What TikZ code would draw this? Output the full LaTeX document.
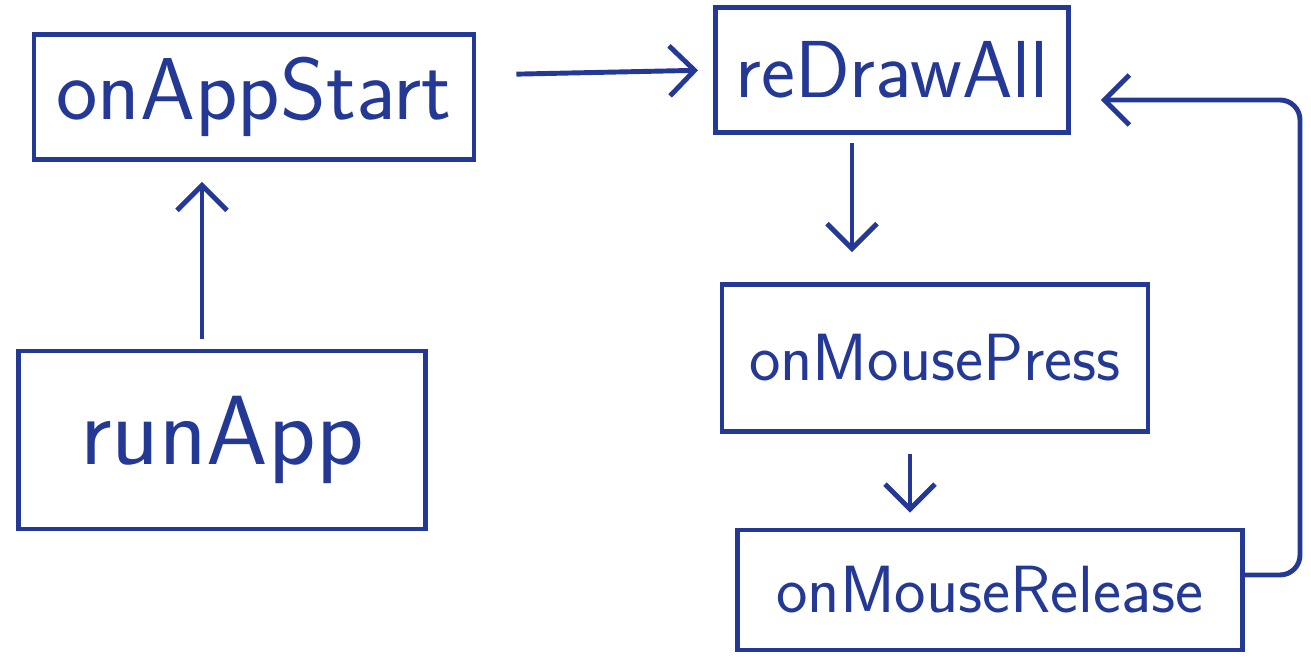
\documentclass[tikz,border=0pt]{standalone}
\usepackage{tikz, xcolor}
\usetikzlibrary{arrows.meta, calc}
\definecolor{ink}{RGB}{36,56,150}
\tikzset{box/.style = {draw = ink, line width = 1.4pt, text = ink, font = \sffamily, inner sep = 0pt},
         arr/.style = {draw = ink, line width = 1.4pt, -{Straight Barb[length = 2.5mm, width = 5mm]}}}

\begin{document}
\begin{tikzpicture}
\useasboundingbox (0,0) rectangle (13.11,6.59);
\node[box, minimum width = 4.4cm,  minimum height = 1.25cm, font = \sffamily\fontsize{25}{25}\selectfont] (start)   at (2.54,5.62) {onAppStart};
\node[box, minimum width = 4.07cm, minimum height = 1.78cm, font = \sffamily\fontsize{28}{28}\selectfont] (run)     at (2.22,2.19) {runApp};
\node[box, minimum width = 3.53cm, minimum height = 1.25cm, font = \sffamily\fontsize{23}{23}\selectfont] (redraw)  at (8.92,5.89) {reDrawAll};
\node[box, minimum width = 4.26cm, minimum height = 1.47cm, font = \sffamily\fontsize{19}{19}\selectfont] (press)   at (9.35,3.01) {onMousePress};
\node[box, minimum width = 5.05cm, minimum height = 1.2cm,  font = \sffamily\fontsize{19}{19}\selectfont] (release) at (9.90,0.69) {onMouseRelease};
\coordinate (loop) at (13.0,0);
% connectors
\draw[arr, shorten <= 1mm, shorten >= 2mm] ([xshift=-2mm]run.north) -- ([xshift=-2mm]run.north |- start.south);
\draw[arr, shorten <= 4mm, shorten >= 1.5mm] ([yshift=2.2mm]start.east) -- (redraw.west);
\draw[arr, shorten <= 0.8mm, shorten >= 3mm] ([xshift=-4mm]redraw.south) -- ([xshift=-4mm]redraw.south |- press.north);
\draw[arr, shorten <= 2mm, shorten >= 1.5mm] ([xshift=-2.5mm]press.south) -- ([xshift=-2.5mm]press.south |- release.north);
\draw[arr, rounded corners = 2mm] ([yshift=1.5mm]release.east) -- ([yshift=1.5mm]release.east -| loop)
  -- ([yshift=-3mm]redraw.east -| loop) -- ([yshift=-3mm, xshift=3mm]redraw.east);
\end{tikzpicture}
\end{document}
